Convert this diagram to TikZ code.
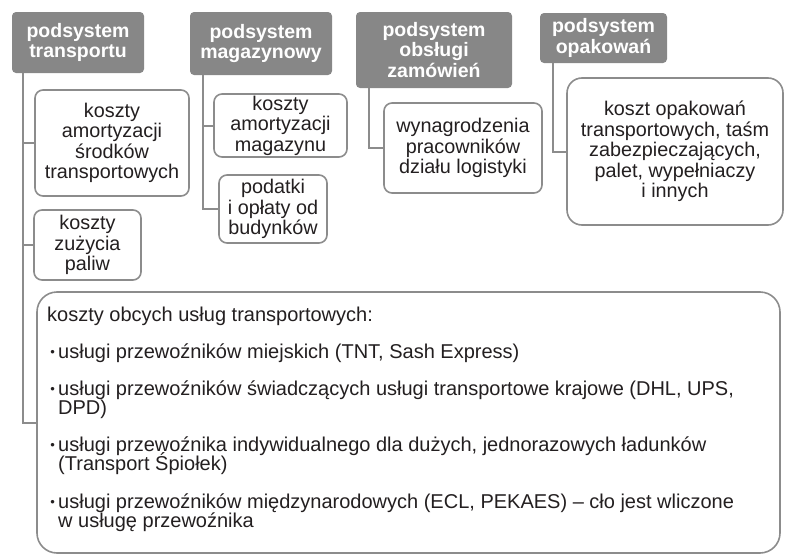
\documentclass[tikz,border=0pt]{standalone}
\usepackage{fontspec}
\setmainfont{Liberation Sans}
\definecolor{hdrgray}{HTML}{878787}
\definecolor{linegray}{HTML}{8C8C8C}
\definecolor{txt}{HTML}{231F20}
\tikzset{
  hdr/.style={fill=hdrgray, rounded corners=4pt, text=white, align=center, inner sep=0pt,
    font=\bfseries\fontsize{19.5}{20.5}\selectfont},
  cbox/.style={draw=linegray, line width=1.6pt, rounded corners=8pt, fill=white, text=txt,
    align=center, inner sep=0pt, font=\fontsize{19.8}{20.5}\selectfont},
  conn/.style={draw=linegray, line width=2pt},
  ltxt/.style={anchor=base west, inner sep=0pt, text=txt, font=\fontsize{20}{19}\selectfont}
}
\newcommand{\bul}{\makebox[11pt][c]{\raisebox{0.15ex}{\fontsize{13}{13}\selectfont•}}}
\begin{document}
\begin{tikzpicture}[x=1pt,y=-1pt]
\useasboundingbox (0,0) rectangle (785,554);
\clip (0,0) rectangle (785,554);
% headers
\node[hdr, minimum width=132pt, minimum height=61pt] (h1) at (78,42.5) {podsystem\\transportu};
\node[hdr, minimum width=142pt, minimum height=63pt] (h2) at (261,43.5) {podsystem\\magazynowy};
\node[hdr, minimum width=156pt, minimum height=76pt] (h3) at (434,50) {podsystem\\obsługi\\zamówień};
\node[hdr, minimum width=127pt, minimum height=50pt] (h4) at (603.5,38) {podsystem\\opakowań};
% coordinates for connector tops
\coordinate (t1) at ([xshift=11pt]h1.south west);
\coordinate (t2) at ([xshift=13.5pt]h2.south west);
\coordinate (t3) at ([xshift=13pt]h3.south west);
\coordinate (t4) at ([xshift=13pt]h4.south west);
% box centres
\path (112,143) coordinate (ca) (87.5,245) coordinate (cb) (280.5,125.5) coordinate (cc)
      (273,209) coordinate (cd) (463,148) coordinate (ce) (675,151.5) coordinate (cf)
      (408.5,422.5) coordinate (cg);
% connectors
\draw[conn] (t1) |- ([xshift=-77pt]ca);
\draw[conn] (t1) |- ([xshift=-53.5pt]cb);
\draw[conn] (t1) |- ([xshift=-371.5pt]cg);
\draw[conn] (t2) |- ([xshift=-66.5pt]cc);
\draw[conn] (t2) |- ([xshift=-54pt]cd);
\draw[conn] (t3) |- ([xshift=-79pt]ce);
\draw[conn] (t4) |- ([xshift=-108pt]cf);
% boxes
\node[cbox, minimum width=154pt, minimum height=106pt] (a) at (ca) {koszty\\amortyzacji\\środków\\transportowych};
\node[cbox, minimum width=107pt, minimum height=70pt] (b) at (cb) {koszty\\zużycia\\paliw};
\node[cbox, minimum width=133pt, minimum height=63pt] (c) at (cc) {koszty\\amortyzacji\\magazynu};
\node[cbox, minimum width=108pt, minimum height=68pt] (d) at (cd) {podatki\\i opłaty od\\budynków};
\node[cbox, minimum width=158pt, minimum height=90pt] (e) at (ce) {wynagrodzenia\\pracowników\\działu logistyki};
\node[cbox, rounded corners=15pt, minimum width=216pt, minimum height=147pt] (f) at (cf) {koszt opakowań\\transportowych, taśm\\zabezpieczających,\\palet, wypełniaczy\\i innych};
\node[cbox, rounded corners=20pt, minimum width=743pt, minimum height=261pt] (g) at (cg) {};
% big box text
\node[ltxt] (l0) at (47,321) {koszty obcych usług transportowych:};
\node[ltxt] (l1) at (47,358) {\bul usługi przewoźników miejskich (TNT, Sash Express)};
\node[ltxt] (l2) at (47,395) {\bul usługi przewoźników świadczących usługi transportowe krajowe (DHL, UPS,};
\node[ltxt] (l3) at (58,414) {DPD)};
\node[ltxt] (l4) at (47,451) {\bul usługi przewoźnika indywidualnego dla dużych, jednorazowych ładunków};
\node[ltxt] (l5) at (58,470) {(Transport Śpiołek)};
\node[ltxt] (l6) at (47,508) {\bul usługi przewoźników międzynarodowych (ECL, PEKAES) – cło jest wliczone};
\node[ltxt] (l7) at (58,527) {w usługę przewoźnika};
\end{tikzpicture}
\end{document}
